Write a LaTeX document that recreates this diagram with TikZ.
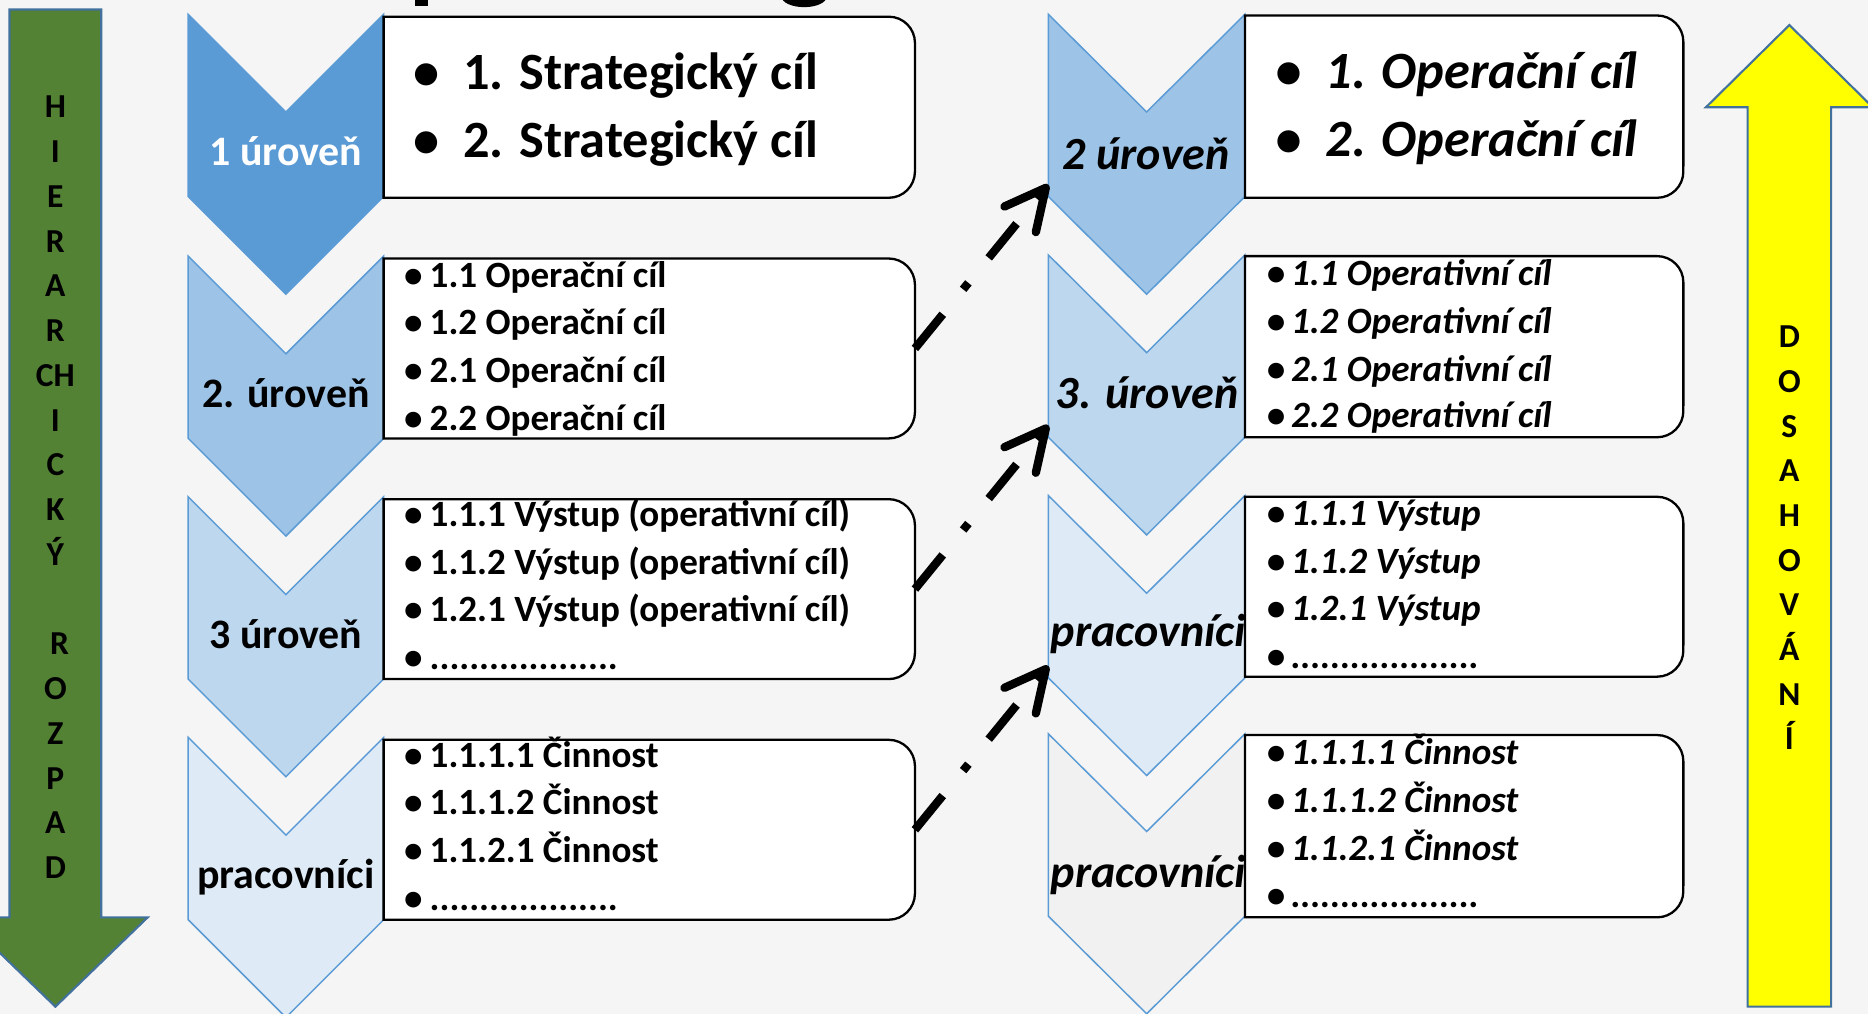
\documentclass[tikz,border=0pt]{standalone}
\usepackage{fontspec}
\setmainfont{Carlito}
\usetikzlibrary{arrows.meta}
\definecolor{bgc}{HTML}{F5F5F5}
\definecolor{cA}{HTML}{5B9BD5}
\definecolor{cB}{HTML}{9DC3E6}
\definecolor{cC}{HTML}{BDD7EE}
\definecolor{cD}{HTML}{DEEBF7}
\definecolor{cE}{HTML}{F1F1F1}
\definecolor{olc}{HTML}{5B9BD5}
\definecolor{arrowol}{HTML}{41719C}
\definecolor{grn}{HTML}{548235}
\definecolor{ylw}{HTML}{FFFF00}
\newcommand{\chev}[5]{%
  \draw[chevron, fill=#4] (#1,#3) -- ({(#1+#2)/2},{#3+82}) -- (#2,#3) -- (#2,{#3+153}) -- ({(#1+#2)/2},{#3+235}) -- (#1,{#3+153}) -- cycle;
  \coordinate (#5-w) at (#1,{#3+143});}
\newcommand{\rbox}[5]{%
  \draw[boxst] (#1,#3) -- ({#2-22},#3) arc[start angle=90,end angle=0,radius=0.22cm] -- (#2,{#4-22}) arc[start angle=0,end angle=-90,radius=0.22cm] -- (#1,#4) -- cycle;
  \coordinate (#5-e) at (#2,{(#3+#4)/2});}
\newcommand{\li}[6]{%
  \node[#6,anchor=base] (#1-b) at (#2,#4) {\textbullet};
  \node[#6,anchor=base west] (#1) at (#3,#4) {#5};}
\begin{document}
\begin{tikzpicture}[x=0.01cm,y=-0.01cm,
  chevron/.style={draw=olc, line width=0.35pt},
  boxst/.style={draw=black, fill=white, line width=0.55pt},
  bigt/.style={font=\fontsize{12.5}{15}\selectfont\bfseries, inner sep=0pt},
  bigi/.style={font=\fontsize{12.5}{15}\selectfont\bfseries\itshape, inner sep=0pt},
  smallt/.style={font=\fontsize{8.85}{10}\selectfont\bfseries, inner sep=0pt},
  smalli/.style={font=\fontsize{8.85}{10}\selectfont\bfseries\itshape, inner sep=0pt},
  chevt/.style={font=\fontsize{10}{12}\selectfont\bfseries, inner sep=0pt, anchor=base},
  chevi/.style={font=\fontsize{11}{13}\selectfont\bfseries\itshape, inner sep=0pt, anchor=base},
  letter/.style={font=\fontsize{8}{10}\selectfont\bfseries, inner sep=0pt, anchor=base},
  bigarrow/.style={draw=arrowol, line width=0.5pt},
  conn/.style={line width=0.07cm, dash pattern=on 0.37cm off 0.27cm on 0.07cm off 0.27cm,
    -{Straight Barb[round,length=0.34cm,width=0.34cm]}}]
\useasboundingbox (0,0) rectangle (1568,851);
\fill[bgc] (0,0) rectangle (1568,851);
\clip (0,0) rectangle (1568,851);
% cut-off title fragments
\fill[black] (348,-2) rectangle (359,5);
\fill[black] (675,-3) ellipse [x radius=0.19cm, y radius=0.09cm];
% big arrows
\draw[bigarrow, fill=grn] (8,8) -- (85,8) -- (85,770) -- (124,770) -- (46.5,845) -- (-31,770) -- (8,770) -- cycle;
\draw[bigarrow, fill=ylw] (1467,845) -- (1467,90) -- (1432,90) -- (1502,21) -- (1572,90) -- (1537,90) -- (1537,845) -- cycle;
\foreach \l/\yy [count=\i] in {H/99, I/136.6, E/174.1, R/211.7, A/249.2, R/286.8, CH/324.3, I/361.9, C/399.4, K/437, Ý/474.5, {\hspace{2pt}R}/549.6, O/587.2, Z/624.7, P/662.3, A/699.8, D/737.4}
  \node[letter] (gl\i) at (46.5,\yy) {\l};
\foreach \l [count=\i] in {D,O,S,A,H,O,V,Á,N,Í}
  \node[letter] (yl\i) at (1502,{292+37.5*(\i-1)}) {\l};
% left chevrons
\chev{158}{322}{12}{cA}{L1}
\chev{158}{322}{215}{cB}{L2}
\chev{158}{322}{417}{cC}{L3}
\chev{158}{322}{619}{cD}{L4}
% right chevrons
\chev{880}{1045}{12}{cB}{R1}
\chev{880}{1045}{214}{cC}{R2}
\chev{880}{1045}{416}{cD}{R3}
\chev{880}{1045}{616}{cE}{R4}
% boxes
\rbox{322}{768}{14}{166}{BL1}
\rbox{322}{768}{217}{368}{BL2}
\rbox{322}{768}{419}{570}{BL3}
\rbox{322}{768}{621}{772}{BL4}
\rbox{1045}{1413}{13}{166}{BR1}
\rbox{1045}{1413}{215}{367}{BR2}
\rbox{1045}{1413}{417}{568}{BR3}
\rbox{1045}{1413}{617}{770}{BR4}
% chevron labels
\node[chevt, text=white] (tL1) at (240,139) {1 úroveň};
\node[chevt] (tL2) at (240,342) {2. úroveň};
\node[chevt] (tL3) at (240,544) {3 úroveň};
\node[chevt] (tL4) at (240,746) {pracovníci};
\node[chevi] (tR1) at (962,142) {2 úroveň};
\node[chevi] (tR2) at (963,343) {3. úroveň};
\node[chevi] (tR3) at (964,543) {pracovníci};
\node[chevi] (tR4) at (964,745) {pracovníci};
% left box texts
\li{a1}{358}{388}{75}{1. Strategický cíl}{bigt}
\li{a2}{358}{388}{132}{2. Strategický cíl}{bigt}
\li{b1}{347}{360}{241}{1.1 Operační cíl}{smallt}
\li{b2}{347}{360}{281}{1.2 Operační cíl}{smallt}
\li{b3}{347}{360}{321}{2.1 Operační cíl}{smallt}
\li{b4}{347}{360}{361}{2.2 Operační cíl}{smallt}
\li{c1}{347}{360}{442}{1.1.1 Výstup (operativní cíl)}{smallt}
\li{c2}{347}{360}{482}{1.1.2 Výstup (operativní cíl)}{smallt}
\li{c3}{347}{360}{522}{1.2.1 Výstup (operativní cíl)}{smallt}
\li{c4}{347}{360}{562}{...................}{smallt}
\li{d1}{347}{360}{644}{1.1.1.1 Činnost}{smallt}
\li{d2}{347}{360}{684}{1.1.1.2 Činnost}{smallt}
\li{d3}{347}{360}{724}{1.1.2.1 Činnost}{smallt}
\li{d4}{347}{360}{764}{...................}{smallt}
% right box texts
\li{e1}{1082}{1112}{74}{1. Operační cíl}{bigi}
\li{e2}{1082}{1112}{131}{2. Operační cíl}{bigi}
\li{f1}{1071}{1083}{240}{1.1 Operativní cíl}{smalli}
\li{f2}{1071}{1083}{280}{1.2 Operativní cíl}{smalli}
\li{f3}{1071}{1083}{320}{2.1 Operativní cíl}{smalli}
\li{f4}{1071}{1083}{359}{2.2 Operativní cíl}{smalli}
\li{g1}{1071}{1083}{441}{1.1.1 Výstup}{smalli}
\li{g2}{1071}{1083}{481}{1.1.2 Výstup}{smalli}
\li{g3}{1071}{1083}{521}{1.2.1 Výstup}{smalli}
\li{g4}{1071}{1083}{561}{...................}{smalli}
\li{h1}{1071}{1083}{642}{1.1.1.1 Činnost}{smalli}
\li{h2}{1071}{1083}{682}{1.1.1.2 Činnost}{smalli}
\li{h3}{1071}{1083}{722}{1.1.2.1 Činnost}{smalli}
\li{h4}{1071}{1083}{762}{...................}{smalli}
% connectors
\draw[conn] (BL2-e) -- (R1-w);
\draw[conn] (BL3-e) -- (R2-w);
\draw[conn] (BL4-e) -- (R3-w);
\end{tikzpicture}
\end{document}
